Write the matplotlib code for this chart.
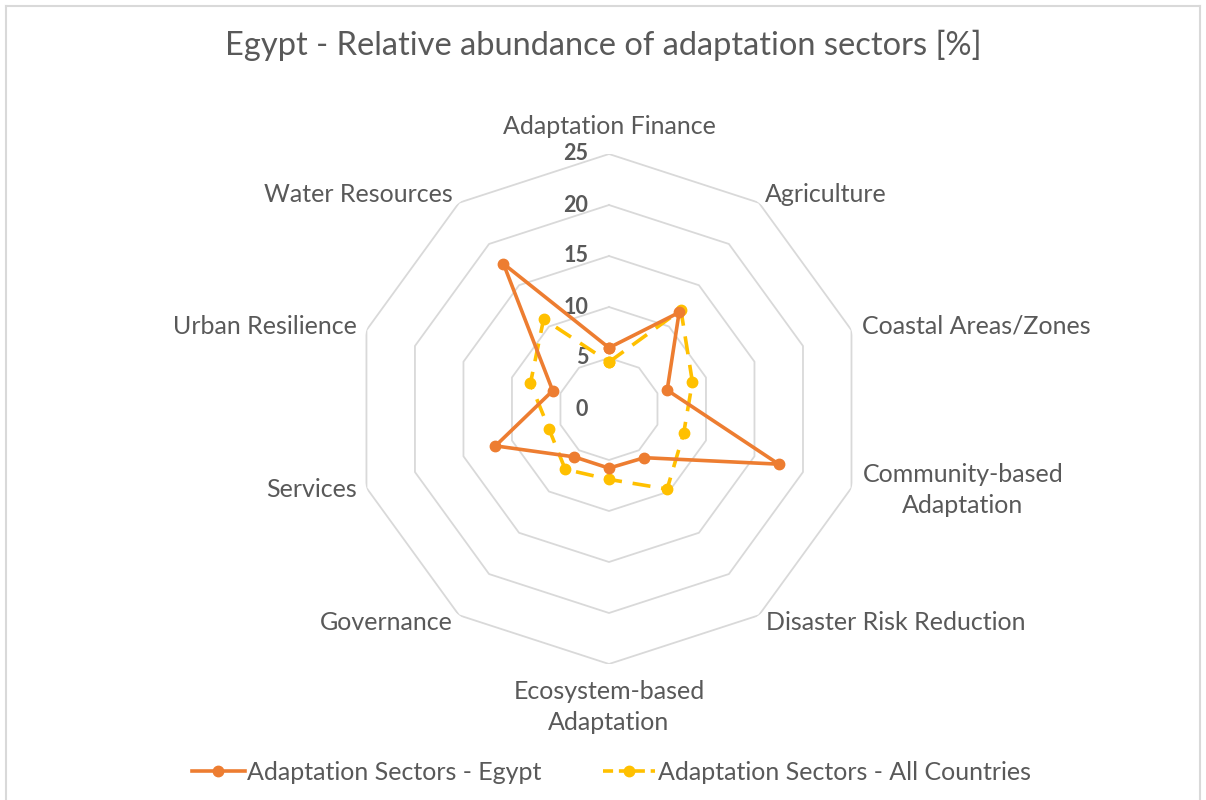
import matplotlib.pyplot as plt
import numpy as np
from matplotlib.lines import Line2D

plt.rcParams['font.family'] = ['Lato', 'DejaVu Sans']

sectors = ['Adaptation Finance', 'Agriculture', 'Coastal Areas/Zones',
           'Community-based\nAdaptation', 'Disaster Risk Reduction',
           'Ecosystem-based\nAdaptation', 'Governance', 'Services',
           'Urban Resilience', 'Water Resources']
egypt = [6.0, 11.7, 6.0, 17.5, 5.9, 5.8, 5.8, 11.7, 5.8, 17.6]
all_countries = [4.6, 12.0, 8.6, 7.7, 9.7, 6.9, 7.3, 6.2, 8.1, 10.9]
rings = [0, 5, 10, 15, 20, 25]

orange = '#ED7D31'
gold = '#FFC000'
grid_c = '#D9D9D9'
text_c = '#595959'

n = len(sectors)
theta = np.linspace(0, 2 * np.pi, n, endpoint=False)
theta_c = np.append(theta, theta[0])

fig = plt.figure(figsize=(12.06, 8), dpi=100)
ax = fig.add_axes([0.2935, 0.17, 0.4229, 0.6375], projection='polar')
ax.set_theta_zero_location('N')
ax.set_theta_direction(-1)
ax.set_ylim(0, 25)
ax.grid(False)
ax.set_xticks([])
ax.set_yticks([])
ax.spines['polar'].set_visible(False)
ax.patch.set_alpha(0)

# decagon rings
for r in rings[1:]:
    ax.plot(theta_c, [r] * (n + 1), color=grid_c, lw=1.3, zorder=1)

# ring value labels next to the top vertex
for r in rings:
    ax.annotate(str(r), xy=(0, r), xytext=(-15, 0), textcoords='offset points',
                ha='right', va='center', fontsize=15.5, fontweight='bold',
                color=text_c)

# category labels round the outside: (ha, dx px, dy px) from the r=25 vertex
place = [('center', 0, 28), ('left', 6, 8), ('left', 11, 4),
         ('left', 11, -2), ('left', 7, -7), ('center', 0, -43),
         ('right', -6, -7), ('right', -10, -2), ('right', -10, 4),
         ('right', -6, 8)]
for t, name, (ha, dx, dy) in zip(theta, sectors, place):
    ax.annotate(name, xy=(t, 25), xytext=(dx * 0.72, dy * 0.72),
                textcoords='offset points', ha=ha, va='center',
                multialignment='center', fontsize=18, color=text_c,
                linespacing=1.45)

ax.plot(theta_c, egypt + egypt[:1], color=orange, lw=2.6, marker='o',
        markersize=7.5, zorder=4)
ax.plot(theta_c, all_countries + all_countries[:1], color=gold, lw=2.6,
        marker='o', markersize=7.5, linestyle=(0, (5, 3)), zorder=3)

fig.text(0.5, 0.943, 'Egypt - Relative abundance of adaptation sectors [%]',
         ha='center', va='center', fontsize=23.5, color=text_c)

handles = [Line2D([], [], color=orange, lw=2.6, marker='o', markersize=7.5),
           Line2D([], [], color=gold, lw=2.6, marker='o', markersize=7.5,
                  linestyle=(0, (2.8, 1.6)))]
fig.legend(handles, ['Adaptation Sectors - Egypt',
                     'Adaptation Sectors - All Countries'],
           loc='center', bbox_to_anchor=(0.507, 0.035), ncol=2, frameon=False,
           fontsize=18, handlelength=2.1, handletextpad=0.1, columnspacing=2.45,
           labelcolor=text_c)

# chart border
fig.add_artist(Line2D([6 / 1206, 6 / 1206], [0, 794 / 800],
                      transform=fig.transFigure, color=grid_c, lw=1.5))
fig.add_artist(Line2D([6 / 1206, 1200 / 1206], [794 / 800, 794 / 800],
                      transform=fig.transFigure, color=grid_c, lw=1.5))
fig.add_artist(Line2D([1200 / 1206, 1200 / 1206], [0, 794 / 800],
                      transform=fig.transFigure, color=grid_c, lw=1.5))

fig.savefig('out.png', dpi=100, facecolor='white')
